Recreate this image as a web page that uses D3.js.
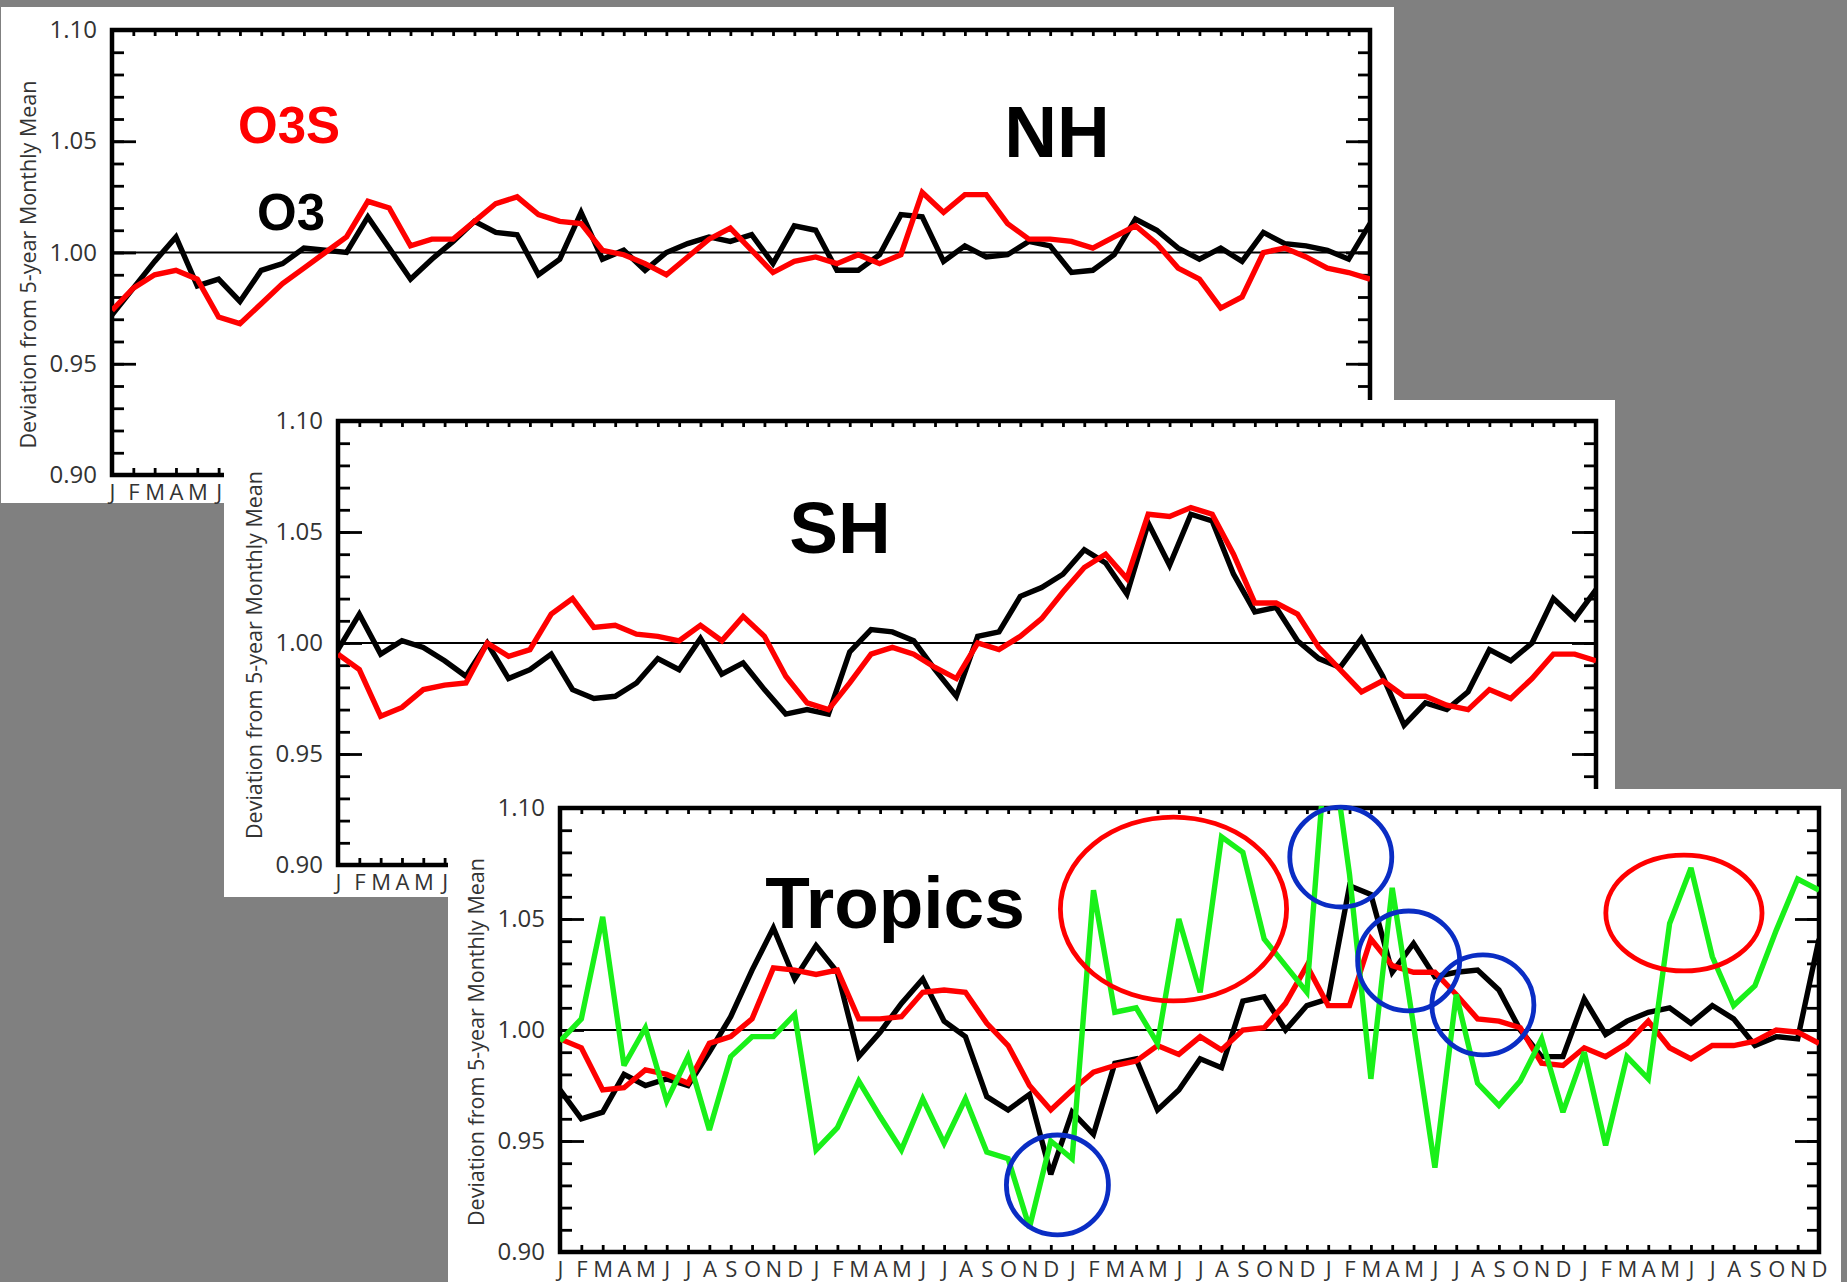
<!DOCTYPE html>
<html>
<head>
<meta charset="utf-8">
<script src="https://cdn.jsdelivr.net/npm/d3@7"></script>
<style>
  html, body { margin: 0; padding: 0; background: #808080; }
  svg { display: block; }
  .tick-label { font-family: "Open Sans", "Liberation Sans", sans-serif; fill: #333; }
  .title { font-family: "Liberation Sans", Arial, sans-serif; font-weight: bold; }
</style>
</head>
<body>
<svg id="chart" width="1847" height="1282"></svg>
<script>
// Month letters along the x axis (five years, Jan..Dec repeated)
const monthLetters = ["J","F","M","A","M","J","J","A","S","O","N","D"];
const monthIndex = d3.range(60);
const yTicksMajor = [0.90, 0.95, 1.00, 1.05, 1.10];
const yTicksMinor = d3.range(0, 21).map(k => +(0.90 + k * 0.01).toFixed(2));

// Northern hemisphere: deviation from 5-year monthly mean
const nhO3 = [0.972,0.984,0.996,1.007,0.985,0.988,0.978,0.992,0.995,1.002,1.001,1.000,1.016,1.002,0.988,0.997,1.005,1.014,1.009,1.008,0.990,0.997,1.018,0.997,1.001,0.992,1.000,1.004,1.007,1.005,
              1.008,0.995,1.012,1.010,0.992,0.992,0.999,1.017,1.016,0.996,1.003,0.998,0.999,1.005,1.003,0.991,0.992,0.999,1.015,1.010,1.002,0.997,1.002,0.996,1.009,1.004,1.003,1.001,0.997,1.013];
const nhO3S = [0.974,0.984,0.990,0.992,0.988,0.971,0.968,0.977,0.986,0.993,1.000,1.007,1.023,1.020,1.003,1.006,1.006,1.014,1.022,1.025,1.017,1.014,1.013,1.001,0.999,0.995,0.990,0.998,1.006,1.011,
               1.001,0.991,0.996,0.998,0.995,0.999,0.995,0.999,1.027,1.018,1.026,1.026,1.013,1.006,1.006,1.005,1.002,1.007,1.012,1.004,0.993,0.988,0.975,0.980,1.000,1.002,0.998,0.993,0.991,0.988];

// Southern hemisphere
const shO3 = [0.997,1.013,0.995,1.001,0.998,0.992,0.985,1.000,0.984,0.988,0.995,0.979,0.975,0.976,0.982,0.993,0.988,1.002,0.986,0.991,0.979,0.968,0.970,0.968,0.996,1.006,1.005,1.001,0.988,0.976,
              1.003,1.005,1.021,1.025,1.031,1.042,1.036,1.022,1.054,1.035,1.058,1.055,1.031,1.014,1.016,1.001,0.993,0.989,1.002,0.985,0.963,0.973,0.970,0.978,0.997,0.992,1.000,1.020,1.011,1.024];
const shO3S = [0.995,0.988,0.967,0.971,0.979,0.981,0.982,1.000,0.994,0.997,1.013,1.020,1.007,1.008,1.004,1.003,1.001,1.008,1.001,1.012,1.003,0.985,0.973,0.970,0.982,0.995,0.998,0.995,0.989,0.984,
               1.000,0.997,1.003,1.011,1.023,1.034,1.040,1.029,1.058,1.057,1.061,1.058,1.040,1.018,1.018,1.013,0.998,0.988,0.978,0.983,0.976,0.976,0.972,0.970,0.979,0.975,0.984,0.995,0.995,0.992];

// Tropics (three series)
const trO3 = [0.973,0.960,0.963,0.980,0.975,0.978,0.975,0.990,1.006,1.027,1.046,1.023,1.038,1.026,0.988,0.999,1.012,1.023,1.004,0.997,0.970,0.964,0.971,0.935,0.963,0.953,0.985,0.987,0.964,0.973,
              0.987,0.983,1.013,1.015,1.000,1.011,1.014,1.065,1.061,1.026,1.039,1.024,1.026,1.027,1.018,1.000,0.988,0.988,1.014,0.998,1.004,1.008,1.010,1.003,1.011,1.005,0.993,0.997,0.996,1.041];
const trO3S = [0.996,0.992,0.973,0.974,0.982,0.980,0.976,0.994,0.997,1.005,1.028,1.027,1.025,1.027,1.005,1.005,1.006,1.017,1.018,1.017,1.003,0.993,0.975,0.964,0.973,0.981,0.984,0.986,0.993,0.989,
               0.997,0.991,1.000,1.001,1.012,1.029,1.011,1.011,1.041,1.029,1.026,1.026,1.016,1.005,1.004,1.001,0.985,0.984,0.992,0.988,0.994,1.004,0.992,0.987,0.993,0.993,0.995,1.000,0.999,0.994];
const trThird = [0.995,1.005,1.051,0.984,1.001,0.968,0.988,0.955,0.988,0.997,0.997,1.007,0.946,0.956,0.977,0.961,0.946,0.969,0.949,0.969,0.945,0.942,0.911,0.950,0.942,1.063,1.008,1.010,0.994,1.050,
                 1.017,1.087,1.080,1.041,1.029,1.017,1.140,1.070,0.978,1.064,1.002,0.938,1.016,0.976,0.966,0.977,0.996,0.963,0.990,0.948,0.988,0.978,1.048,1.073,1.033,1.011,1.020,1.045,1.068,1.063];

// Highlight rings on the tropics panel, in data units: [month, value, radius in months, radius in value]
const redRings  = [[28.75, 1.0545, 5.30, 0.0414], [52.67, 1.0527, 3.66, 0.0261]];
const blueRings = [[23.31, 0.9302, 2.39, 0.0225], [36.59, 1.0779, 2.39, 0.0225], [39.77, 1.0311, 2.39, 0.0225], [43.25, 1.0113, 2.39, 0.0225]];

const COLORS = { o3: "#000000", o3s: "#ff0000", third: "#19f019", redRing: "#ff0000", blueRing: "#0a2dc4" };

const svg = d3.select("#chart");

// Each panel sits on its own white card; later cards overlap earlier ones,
// so month letters are only written where the card stays uncovered.
const panels = [
  { id: "nh", card: [1, 7, 1394, 503], plot: { l: 112, r: 1370, t: 30, b: 475 }, labelLimit: 224,
    series: [{ v: nhO3, c: COLORS.o3 }, { v: nhO3S, c: COLORS.o3s }],
    title: { text: "NH", x: 1057, y: 157 } },
  { id: "sh", card: [224, 400, 1615, 897], plot: { l: 338, r: 1596, t: 421, b: 865 }, labelLimit: 448,
    series: [{ v: shO3, c: COLORS.o3 }, { v: shO3S, c: COLORS.o3s }],
    title: { text: "SH", x: 840, y: 553 } },
  { id: "tr", card: [448, 789, 1841, 1300], plot: { l: 560, r: 1819, t: 808, b: 1252 }, labelLimit: Infinity,
    series: [{ v: trO3, c: COLORS.o3 }, { v: trO3S, c: COLORS.o3s }, { v: trThird, c: COLORS.third }],
    title: { text: "Tropics", x: 895, y: 928 } }
];

panels.forEach(p => {
  const g = svg.append("g").attr("class", "panel-" + p.id);
  const [cx0, cy0, cx1, cy1] = p.card;
  g.append("rect").attr("x", cx0).attr("y", cy0).attr("width", cx1 - cx0).attr("height", cy1 - cy0).attr("fill", "#fff");

  const { l, r, t, b } = p.plot;
  const x = d3.scaleLinear().domain([0, 59]).range([l, r]);
  const y = d3.scaleLinear().domain([0.90, 1.10]).range([b, t]);
  p.x = x; p.y = y; p.g = g;

  // reference line at 1.00
  g.append("line").attr("x1", l).attr("x2", r).attr("y1", y(1)).attr("y2", y(1))
    .attr("stroke", "#000").attr("stroke-width", 2);

  // y axis: minor and major ticks pointing inward, labels at major ticks
  const styleAxis = sel => {
    sel.selectAll(".domain").remove();
    sel.selectAll(".tick line").attr("stroke", "#000").attr("stroke-width", 2.8);
  };
  g.append("g").attr("transform", `translate(${l},0)`)
    .call(d3.axisLeft(y).tickValues(yTicksMinor).tickSize(-12).tickFormat(""))
    .call(styleAxis);
  g.append("g").attr("transform", `translate(${l},0)`)
    .call(d3.axisLeft(y).tickValues(yTicksMajor).tickSize(-24).tickPadding(15).tickFormat(d3.format(".2f")))
    .call(styleAxis)
    .call(s => s.selectAll("text").attr("class", "tick-label").style("font-size", "24px").style("fill", "#333"));
  g.append("g").attr("transform", `translate(${r},0)`)
    .call(d3.axisRight(y).tickValues(yTicksMinor).tickSize(-12).tickFormat(""))
    .call(styleAxis);
  g.append("g").attr("transform", `translate(${r},0)`)
    .call(d3.axisRight(y).tickValues(yTicksMajor).tickSize(-24).tickFormat(""))
    .call(styleAxis);

  // x axis: monthly ticks along top and bottom
  g.append("g").attr("transform", `translate(0,${t})`)
    .call(d3.axisTop(x).tickValues(monthIndex).tickSize(-6).tickFormat(""))
    .call(styleAxis);
  g.append("g").attr("transform", `translate(0,${b})`)
    .call(d3.axisBottom(x).tickValues(monthIndex).tickSize(-7).tickFormat(""))
    .call(styleAxis);
  // month letters below the frame
  const labelled = monthIndex.filter(i => x(i) < p.labelLimit);
  g.append("g").attr("transform", `translate(0,${b})`)
    .call(d3.axisBottom(x).tickValues(labelled).tickSize(0).tickPadding(9).tickFormat(i => monthLetters[i % 12]))
    .call(s => s.selectAll(".domain").remove())
    .call(s => s.selectAll("text").attr("class", "tick-label").style("font-size", "22px").style("fill", "#333"));

  // plot frame
  g.append("rect").attr("x", l).attr("y", t).attr("width", r - l).attr("height", b - t)
    .attr("fill", "none").attr("stroke", "#000").attr("stroke-width", 4.5);

  // y axis title
  g.append("text")
    .attr("class", "tick-label")
    .attr("transform", `translate(${l - 76},${(t + b) / 2 + 12}) rotate(-90)`)
    .attr("text-anchor", "middle")
    .style("font-size", "22px")
    .style("fill", "#333")
    .attr("textLength", 368).attr("lengthAdjust", "spacingAndGlyphs")
    .text("Deviation from 5-year Monthly Mean");

  // data lines, clipped to the plot area
  const clipId = "clip-" + p.id;
  g.append("clipPath").attr("id", clipId)
    .append("rect").attr("x", l).attr("y", t - 2).attr("width", r - l).attr("height", b - t + 4);
  const line = d3.line().x((d, i) => x(i)).y(d => y(d));
  const lines = g.append("g").attr("clip-path", `url(#${clipId})`);
  p.series.forEach(s => {
    lines.append("path").datum(s.v).attr("d", line)
      .attr("fill", "none").attr("stroke", s.c).attr("stroke-width", 5.4)
      .attr("stroke-linejoin", "miter").attr("stroke-miterlimit", 3);
  });

  // panel title
  g.append("text").attr("class", "title")
    .attr("x", p.title.x).attr("y", p.title.y)
    .attr("text-anchor", "middle").style("font-size", "73px").attr("fill", "#000")
    .text(p.title.text);
});

// series labels on the NH panel
const nh = panels[0];
nh.g.append("text").attr("class", "title").attr("x", 289).attr("y", 143)
  .attr("text-anchor", "middle").style("font-size", "51px").attr("fill", COLORS.o3s).text("O3S");
nh.g.append("text").attr("class", "title").attr("x", 291).attr("y", 230)
  .attr("text-anchor", "middle").style("font-size", "51px").attr("fill", COLORS.o3).text("O3");

// highlight rings on the tropics panel
const tr = panels[2];
const ringLayer = tr.g.append("g");
const drawRings = (rings, color) => {
  ringLayer.selectAll(null).data(rings).join("ellipse")
    .attr("cx", d => tr.x(d[0]))
    .attr("cy", d => tr.y(d[1]))
    .attr("rx", d => tr.x(d[0] + d[2]) - tr.x(d[0]))
    .attr("ry", d => tr.y(d[1] - d[3]) - tr.y(d[1]))
    .attr("fill", "none").attr("stroke", color).attr("stroke-width", 4.8);
};
drawRings(redRings, COLORS.redRing);
drawRings(blueRings, COLORS.blueRing);
</script>
</body>
</html>
